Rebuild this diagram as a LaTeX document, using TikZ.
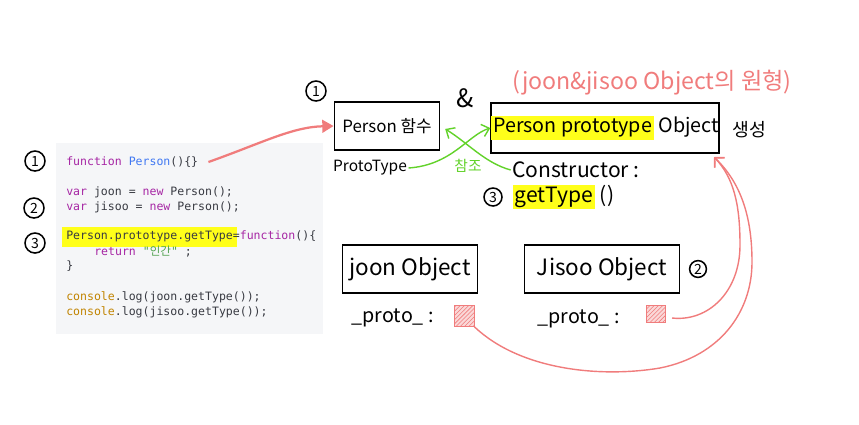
\documentclass[tikz,border=0pt]{standalone}
\usepackage{fontspec}
\setmonofont{DejaVu Sans Mono}
\newfontfamily\handfont{Noto Sans CJK KR}
\usetikzlibrary{arrows.meta,calc,patterns}
\definecolor{codepanel}{HTML}{F5F6F8}
\definecolor{codetext}{HTML}{383A42}
\definecolor{codekey}{HTML}{A626A4}
\definecolor{codename}{HTML}{4078F2}
\definecolor{codeconsole}{HTML}{C18401}
\definecolor{codestring}{HTML}{50A14F}
\definecolor{markyellow}{HTML}{FFFF1A}
\definecolor{sketchpink}{HTML}{F07C7C}
\definecolor{sketchgreen}{HTML}{62D22A}
\newcommand\codemark[1]{{\fboxsep=3pt\kern-3pt\colorbox{markyellow}{#1}\kern-3pt}}
\newcommand\handmark[1]{{\fboxsep=1.5pt\colorbox{markyellow}{#1}}}

\begin{document}
\begin{tikzpicture}[x=0.025cm,y=-0.025cm,
  handbox/.style={draw=black,line width=1.3pt,inner sep=0pt,font=\handfont},
  handlabel/.style={inner sep=1pt,font=\handfont},
  handnum/.style={circle,draw=black,line width=1.1pt,inner sep=0pt,
    minimum size=0.5cm,font=\handfont\fontsize{10}{12}\selectfont},
  codeline/.style={anchor=west,inner sep=0pt,text=codetext,
    font=\ttfamily\fontsize{8.2}{10}\selectfont},
  hatchmark/.style={draw=sketchpink,line width=0.6pt,fill=sketchpink!30,
    postaction={pattern=north east lines,pattern color=sketchpink},inner sep=0pt},
  pinkarrow/.style={draw=sketchpink,line width=1.6pt,
    -{Triangle[length=8pt,width=9pt]}},
  pinkflow/.style={draw=sketchpink,line width=1pt,
    -{Straight Barb[length=5pt,width=10pt]}},
  greenflow/.style={draw=sketchgreen,line width=1pt,
    -{Straight Barb[length=5pt,width=9pt]}}
]
  \useasboundingbox (0,0) rectangle (859,424);
  \fill[codepanel] (56,143) rectangle (323,334);
  \node[codeline] (codefn) at (66,162)
    {\textcolor{codekey}{function} \textcolor{codename}{Person}()\{\}};
  \node[codeline] (codejoon) at (66,192)
    {\textcolor{codekey}{var} joon = \textcolor{codekey}{new} Person();};
  \node[codeline] (codejisoo) at (66,207)
    {\textcolor{codekey}{var} jisoo = \textcolor{codekey}{new} Person();};
  \node[codeline] (codeproto) at (66,237)
    {\codemark{Person.prototype.getType}=\textcolor{codekey}{function}()\{};
  \node[codeline] (codereturn) at (94,252)
    {\textcolor{codekey}{return} \textcolor{codestring}{"{\handfont 인간}"} ;};
  \node[codeline] (codeclose) at (66,266) {\}};
  \node[codeline] (codelogjoon) at (66,297)
    {\textcolor{codeconsole}{console}.log(joon.getType());};
  \node[codeline] (codelogjisoo) at (66,312)
    {\textcolor{codeconsole}{console}.log(jisoo.getType());};

  \node[handnum] (stepone) at (35,161) {1};
  \node[handnum] (steptwo) at (34,208) {2};
  \node[handnum] (stepthree) at (35,243) {3};

  \node[handnum] (fnone) at (316,91) {1};
  \node[handbox,minimum width=2.625cm,minimum height=1.2cm,
    font=\handfont\fontsize{12}{14}\selectfont] (personfn) at (387,126)
    {Person 함수};
  \node[handlabel,font=\handfont\fontsize{18}{20}\selectfont] (amp)
    at (465,98) {\&};
  \node[handlabel,text=sketchpink,font=\handfont\fontsize{16.5}{18}\selectfont]
    (originnote) at (652,83) {(joon\&jisoo Object의 원형)};
  \node[handbox,minimum width=5.25cm,minimum height=1.25cm,
    font=\handfont\fontsize{14}{16}\selectfont] (protoobj) at (605,128)
    {\handmark{Person prototype} Object};
  \node[handlabel,font=\handfont\fontsize{13}{15}\selectfont] (create)
    at (749,130) {생성};

  \node[handlabel,font=\handfont\fontsize{11}{13}\selectfont] (prototypelabel)
    at (370,168) {ProtoType};
  \node[handlabel,text=sketchgreen,font=\handfont\fontsize{10.5}{12}\selectfont]
    (refer) at (468,166) {참조};
  \node[handlabel,font=\handfont\fontsize{15}{17}\selectfont]
    (constructorlabel) at (576,170) {Constructor :};
  \node[handnum,minimum size=0.45cm] (protothree) at (493,197) {3};
  \node[handlabel,anchor=west,font=\handfont\fontsize{15}{17}\selectfont]
    (gettype) at (511,197) {\handmark{getType} ()};

  \node[handbox,minimum width=3.375cm,minimum height=1.2cm,
    font=\handfont\fontsize{16}{18}\selectfont] (joonobj) at (410,269)
    {joon Object};
  \node[handlabel,anchor=west,font=\handfont\fontsize{14}{16}\selectfont]
    (joonproto) at (350,318) {\_proto\_ :};
  \node[hatchmark,minimum width=0.5cm,minimum height=0.52cm] (joonmark)
    at (464,316) {};

  \node[handbox,minimum width=3.875cm,minimum height=1.2cm,
    font=\handfont\fontsize{16}{18}\selectfont] (jisooobj) at (602,269)
    {Jisoo Object};
  \node[handnum,minimum size=0.42cm] (jisootwo) at (698,269) {2};
  \node[handlabel,anchor=west,font=\handfont\fontsize{14}{16}\selectfont]
    (jisooproto) at (536,319) {\_proto\_ :};
  \node[hatchmark,minimum width=0.48cm,minimum height=0.43cm] (jisoomark)
    at (656,314) {};

  \coordinate (protohit) at (714,157);
  \draw[pinkarrow] ([xshift=0.25cm]codefn.east) .. controls (262,143)
    and (292,127) .. (personfn.west);
  \draw[greenflow] (prototypelabel.east) .. controls (452,165) and (468,135)
    .. (protoobj.west);
  \draw[greenflow,shorten >=4pt] (constructorlabel.west) .. controls (485,163)
    and (468,143) .. (personfn.east);
  \draw[pinkflow] ([xshift=0.15cm,yshift=-0.1cm]jisoomark.east)
    .. controls (708,322) and (740,292) .. (740,245)
    .. controls (740,205) and (734,178) .. (protohit);
  \draw[pinkflow] (joonmark.south east) .. controls (520,370) and (600,378)
    .. (660,368) .. controls (720,356) and (752,312) .. (752,262)
    .. controls (752,215) and (740,182) .. (protohit);
\end{tikzpicture}
\end{document}
